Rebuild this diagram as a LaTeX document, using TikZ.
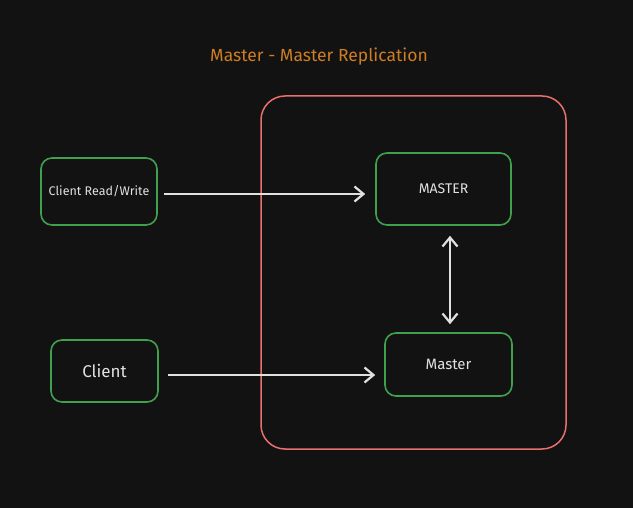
\documentclass[tikz,border=0pt]{standalone}
\usepackage{fontspec}
\setmainfont{Fira Sans}
\usepackage{tikz}
\usetikzlibrary{arrows.meta}
\definecolor{rbg}{RGB}{18,18,18}
\definecolor{rorange}{RGB}{205,125,35}
\definecolor{rred}{RGB}{232,112,110}
\definecolor{rgreen}{RGB}{64,160,78}
\definecolor{rlink}{RGB}{225,225,225}
\tikzset{barb/.tip={Straight Barb[length=9pt,width=15pt]}}

\begin{document}
\begin{tikzpicture}[x=1pt,y=-1pt,
  box/.style={draw=rgreen,line width=1.6pt,rounded corners=11pt,text=rlink,
    inner sep=0pt},
  link/.style={draw=rlink,line width=2.2pt,-barb}]
\fill[rbg] (0,0) rectangle (633,508);
\useasboundingbox (0,0) rectangle (633,508);
\node[text=rorange,font=\fontsize{17.5}{20}\selectfont] (title) at (319,57) {Master - Master Replication};
\draw[rred,line width=1.5pt,rounded corners=24pt] (261,96) rectangle (566,449);
\node[box,minimum width=116pt,minimum height=67pt,font=\fontsize{12.5}{14}\selectfont] (crw) at (99,191.5) {Client Read/Write};
\node[box,minimum width=107pt,minimum height=62pt,font=\fontsize{17}{19}\selectfont] (cl) at (104.5,371) {Client};
\node[box,minimum width=135pt,minimum height=72pt,font=\fontsize{14}{16}\selectfont] (m1) at (443.5,189) {MASTER};
\node[box,minimum width=127pt,minimum height=63pt,font=\fontsize{15}{17}\selectfont] (m2) at (448.5,364.5) {Master};
\draw[link,shorten <=6pt,shorten >=10pt] ([yshift=-2.5pt]crw.east) -- ([yshift=-2.5pt]crw.east -| m1.west);
\draw[link,shorten <=9pt,shorten >=9pt] ([yshift=-4pt]cl.east) -- ([yshift=-4pt]cl.east -| m2.west);
\draw[link,barb-barb,shorten <=10pt,shorten >=8pt] ([xshift=6.5pt]m1.south) -- ([xshift=1.5pt]m2.north);
\end{tikzpicture}
\end{document}
